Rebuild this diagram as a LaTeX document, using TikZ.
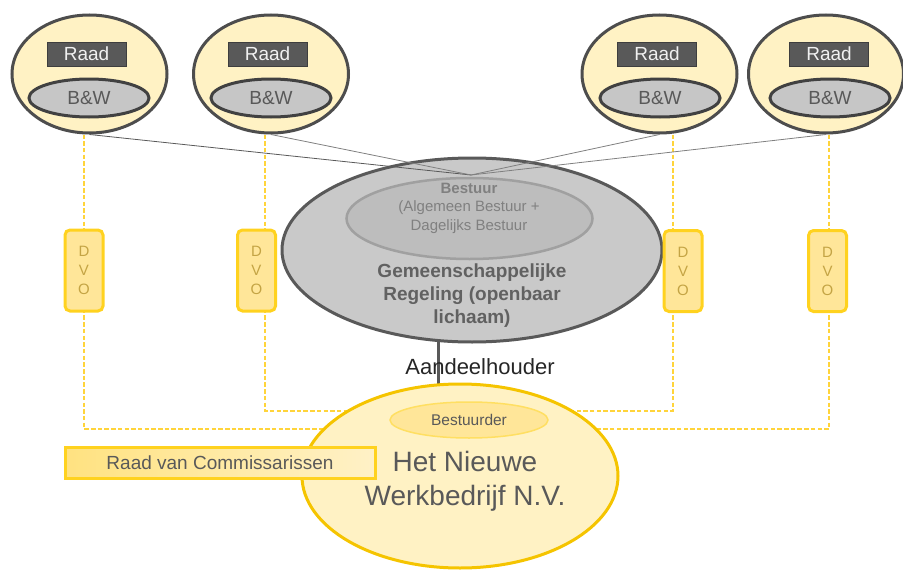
\documentclass[tikz,border=0pt]{standalone}
\usepackage{fontspec}
\setmainfont{Liberation Sans}
\usetikzlibrary{shapes.geometric,backgrounds}

\definecolor{cream}{HTML}{FFF2C4}
\definecolor{randdonker}{HTML}{4D4D4D}
\definecolor{raadgrijs}{HTML}{595959}
\definecolor{bwgrijs}{HTML}{C6C6C6}
\definecolor{tekstgrijs}{HTML}{595959}
\definecolor{grgrijs}{HTML}{C9C9C9}
\definecolor{bestuurgrijs}{HTML}{BDBDBD}
\definecolor{bestuurrand}{HTML}{A0A0A0}
\definecolor{goud}{HTML}{F5C400}
\definecolor{dvogoud}{HTML}{FFD21F}
\definecolor{dvovul}{HTML}{FFE699}
\definecolor{dvotekst}{HTML}{C4A444}
\definecolor{lijngeel}{HTML}{FFD43B}

\tikzset{
  gemeente/.style={ellipse, draw=randdonker, line width=3pt, fill=cream,
    minimum width=155pt, minimum height=118pt, inner sep=0pt},
  raadbox/.style={rectangle, fill=raadgrijs, draw=randdonker!80!black, line width=1pt,
    minimum width=79pt, minimum height=24pt, inner sep=0pt, text=white!94!black,
    font=\fontsize{19}{19}\selectfont},
  bwell/.style={ellipse, fill=bwgrijs, draw=randdonker!85!black, line width=3pt,
    minimum width=120pt, minimum height=38pt, inner sep=0pt, text=tekstgrijs,
    font=\fontsize{19}{19}\selectfont},
  dvobox/.style={rectangle, rounded corners=5pt, draw=dvogoud, line width=3pt, fill=dvovul,
    minimum width=38pt, minimum height=81pt, inner sep=0pt, align=center, text=dvotekst,
    font=\fontsize{15}{19}\selectfont},
  dvoline/.style={draw=lijngeel, dash pattern=on 4.5pt off 2.2pt, line width=2.2pt},
  verband/.style={draw=gray, line width=0.8pt},
}

\begin{document}
\begin{tikzpicture}[x=1pt,y=-1pt]

    \useasboundingbox (0,0) rectangle (903,570);

    %% Gemeenten

    % Gemeente 1
    \node[gemeente] (gem1) at (89.5,74) {};
    \node[raadbox] (raad1) at (86.5,54) {Raad};
    \node[bwell] (bw1) at (89,98) {B\&W};

    % Gemeente 2
    \node[gemeente] (gem2) at (271,74) {};
    \node[raadbox] (raad2) at (267.5,54) {Raad};
    \node[bwell] (bw2) at (271,98) {B\&W};

    % Gemeente 3
    \node[gemeente] (gem3) at (659.5,74) {};
    \node[raadbox] (raad3) at (657,54) {Raad};
    \node[bwell] (bw3) at (660,98) {B\&W};

    % Gemeente 4
    \node[gemeente] (gem4) at (826,74) {};
    \node[raadbox] (raad4) at (829,54) {Raad};
    \node[bwell] (bw4) at (830,98) {B\&W};

    %% Gemeenschappelijke regeling
    \node[ellipse, draw=raadgrijs, line width=3pt, fill=grgrijs, minimum width=380pt,
      minimum height=184pt, inner sep=0pt] (gr) at (472,250) {};
    \node[ellipse, draw=bestuurrand, line width=2.5pt, fill=bestuurgrijs, minimum width=246pt,
      minimum height=81pt, inner sep=0pt] (bestuur) at (469.5,218.5) {};
    \node[align=center, text=gray, font=\fontsize{15}{18.5}\selectfont] (bestuurtxt) at (469,208)
      {\textbf{Bestuur}\\(Algemeen Bestuur +\\Dagelijks Bestuur};
    \node[align=center, text=black!62, font=\fontsize{19}{23}\selectfont\bfseries] (grtxt) at (472,296)
      {Gemeenschappelijke\\Regeling (openbaar\\lichaam)};

    % Aandeelhouder
    \node[text=black!85, font=\fontsize{22}{22}\selectfont] (aandeel) at (480,367) {Aandeelhouder};

    %% Het Nieuwe Werkbedrijf
    \node[ellipse, draw=goud, line width=3pt, fill=cream, minimum width=316pt,
      minimum height=184pt, inner sep=0pt] (nwb) at (460,476) {};
    \node[ellipse, draw=dvogoud!70, line width=1.5pt, fill=dvovul, minimum width=158pt,
      minimum height=36pt, inner sep=0pt, text=tekstgrijs, font=\fontsize{15.5}{15.5}\selectfont]
      (bestuurder) at (469,420) {Bestuurder};
    \node[align=center, text=tekstgrijs, font=\fontsize{28}{34}\selectfont] (nwbtxt) at (465,481)
      {Het Nieuwe\\Werkbedrijf N.V.};

    % Raad van Commissarissen
    \node[rectangle, draw=dvogoud, line width=3pt, left color=dvovul!80!dvogoud, right color=dvovul!55,
      minimum width=310pt, minimum height=31pt, inner sep=0pt, text=tekstgrijs,
      font=\fontsize{19}{19}\selectfont] (rvc) at (220,462.5) {Raad van Commissarissen};

    %% DVO's
    \node[dvobox] (dvo1) at (84,270.5) {D\\V\\O};
    \node[dvobox] (dvo2) at (256.5,270.5) {D\\V\\O};
    \node[dvobox] (dvo3) at (683,271) {D\\V\\O};
    \node[dvobox] (dvo4) at (827.5,271) {D\\V\\O};

    % knikpunten van de DVO-lijnen
    \coordinate (k1) at (84,429);
    \coordinate (k2) at (265,411);
    \coordinate (k3) at (673,411);
    \coordinate (k4) at (829,429);
    \coordinate (ah) at (438,0);

    \begin{scope}[on background layer]
      % DVO-lijnen
      \draw[dvoline] (gem1.south -| k1) -- (k1) -- (k1 -| nwb.center);
      \draw[dvoline] (gem2.south -| k2) -- (k2) -- (k2 -| nwb.center);
      \draw[dvoline] (gem3.south -| k3) -- (k3) -- (k3 -| nwb.center);
      \draw[dvoline] (gem4.south -| k4) -- (k4) -- (k4 -| nwb.center);

      % aandeelhouder
      \draw[draw=raadgrijs, line width=3pt] (gr.center -| ah) -- (nwb.center -| ah);
    \end{scope}

    % lijnen naar het bestuur
    \coordinate (top) at (471,175);
    \draw[verband, draw=black!65] (gem1.south) -- (top);
    \draw[verband] (gem2.south) -- (top);
    \draw[verband] (gem3.south) -- (top);
    \draw[verband] (gem4.south) -- (top);

\end{tikzpicture}
\end{document}
